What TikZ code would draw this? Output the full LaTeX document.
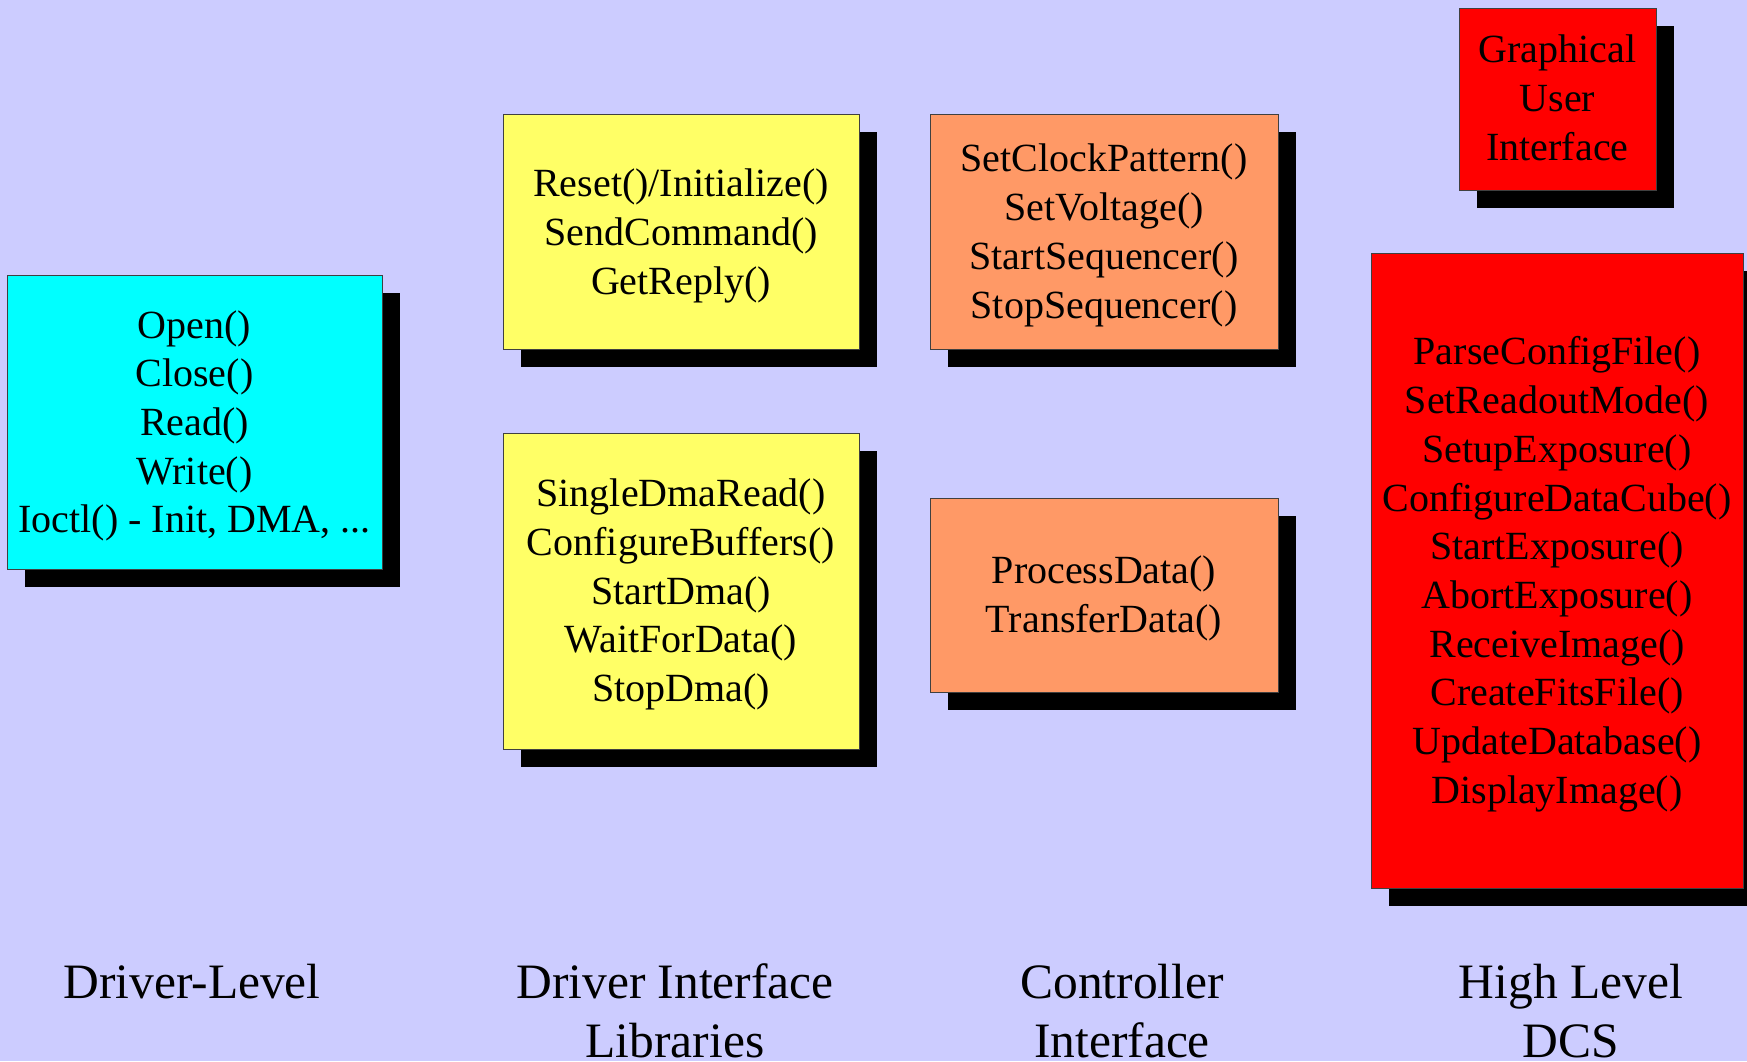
\documentclass[tikz,border=0pt]{standalone}
\usepackage{fontspec}
\setmainfont{Liberation Serif}
\usetikzlibrary{shadows}

\definecolor{pagebg}{HTML}{CCCCFF}
\definecolor{drvcyan}{HTML}{00FFFF}
\definecolor{libyellow}{HTML}{FFFF66}
\definecolor{ctlorange}{HTML}{FF9966}
\definecolor{dcsred}{HTML}{FF0000}

\newcommand\fnfont{\fontsize{40}{48.7}\selectfont}
\newcommand\tierfont{\fontsize{49.5}{59}\selectfont}

\begin{document}
\begin{tikzpicture}[x=1pt,y=-1pt,
  panel/.style={draw=black!75, line width=0.8pt, inner sep=0pt,
    drop shadow={shadow xshift=18pt, shadow yshift=-18pt, fill=black, opacity=1}},
  calls/.style={align=center, inner sep=0pt, font=\fnfont, text=black},
  tier/.style={align=center, inner sep=0pt, font=\tierfont, text=black}]

\useasboundingbox (0,0) rectangle (1747,1061);
\fill[pagebg] (0,0) rectangle (1747,1061);
\clip (0,0) rectangle (1747,1061);

% panels with their drop shadows
\node[panel, fill=drvcyan,   minimum width=375pt, minimum height=294pt] (drv)  at (194.5,422)  {};
\node[panel, fill=libyellow, minimum width=356pt, minimum height=235pt] (libA) at (681,231.5)  {};
\node[panel, fill=libyellow, minimum width=356pt, minimum height=316pt] (libB) at (681,591)    {};
\node[panel, fill=ctlorange, minimum width=348pt, minimum height=235pt] (ctlA) at (1104,231.5) {};
\node[panel, fill=ctlorange, minimum width=348pt, minimum height=194pt] (ctlB) at (1104,595)   {};
\node[panel, fill=dcsred,    minimum width=197pt, minimum height=182pt] (gui)  at (1557.5,99)  {};
\node[panel, fill=dcsred,    minimum width=372pt, minimum height=635pt] (dcs)  at (1557,570.5) {};

% function lists
\node[calls] (drvT)  at (194.5,425.8) {\strut Open()\\Close()\\Read()\\Write()\\Ioctl() - Init, DMA, ...\strut};
\node[calls] (libAT) at (681,235.8)   {\strut Reset()/Initialize()\\SendCommand()\\GetReply()\strut};
\node[calls] (libBT) at (681,594.3)   {\strut SingleDmaRead()\\ConfigureBuffers()\\StartDma()\\WaitForData()\\StopDma()\strut};
\node[calls] (ctlAT) at (1104,235.3)  {\strut SetClockPattern()\\SetVoltage()\\StartSequencer()\\StopSequencer()\strut};
\node[calls] (ctlBT) at (1104,598.3)  {\strut ProcessData()\\TransferData()\strut};
\node[calls] (guiT)  at (1557.5,101.8) {\strut Graphical\\User\\Interface\strut};
\node[calls] (dcsT)  at (1557,574.3)  {\strut ParseConfigFile()\\SetReadoutMode()\\SetupExposure()\\ConfigureDataCube()\\StartExposure()\\AbortExposure()\\ReceiveImage()\\CreateFitsFile()\\UpdateDatabase()\\DisplayImage()\strut};

% layer captions
\node[tier] (capDrv) at (192,986.2)   {\strut Driver-Level\strut};
\node[tier] (capLib) at (675,1015.7)  {\strut Driver Interface\\Libraries\strut};
\node[tier] (capCtl) at (1122,1015.7) {\strut Controller\\Interface\strut};
\node[tier] (capDcs) at (1571,1015.7) {\strut High Level\\DCS\strut};
\end{tikzpicture}
\end{document}
